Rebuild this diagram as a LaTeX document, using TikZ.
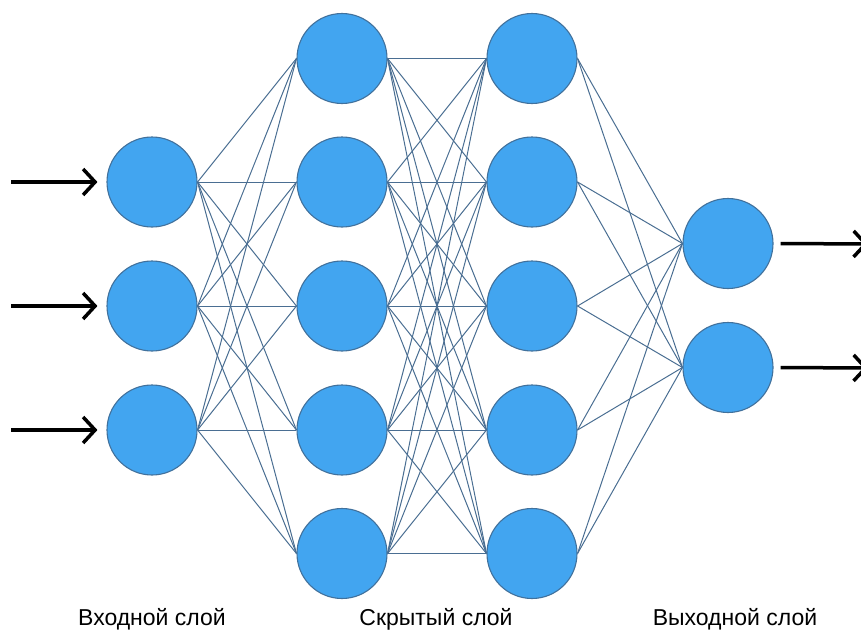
\documentclass[tikz,border=0pt]{standalone}
\usepackage{fontspec}
\setmainfont{Liberation Sans}
\usetikzlibrary{arrows.meta,backgrounds}
\definecolor{nodefill}{HTML}{42A5F0}
\definecolor{nodeedge}{HTML}{41719C}
\definecolor{linkcol}{HTML}{4A6E92}
\tikzset{
  neuron/.style={circle, minimum size=90pt, inner sep=0pt, fill=nodefill, draw=nodeedge, line width=1.1pt},
  link/.style={draw=linkcol, line width=1pt},
  bigarrow/.style={draw=black, line width=3.5pt, -{Straight Barb[length=12pt,width=26pt,line width=3.5pt]}},
  layerlabel/.style={font=\fontsize{23}{26}\selectfont, anchor=base, inner sep=0pt}
}
\begin{document}
\begin{tikzpicture}[x=1pt,y=-1pt]
\useasboundingbox (0,0) rectangle (861,629);
% input layer
\node[neuron] (i1) at (152,182) {};
\node[neuron] (i2) at (152,306) {};
\node[neuron] (i3) at (152,430) {};
% hidden layer 1
\node[neuron] (a1) at (342,58.5) {};
\node[neuron] (a2) at (342,182) {};
\node[neuron] (a3) at (342,306) {};
\node[neuron] (a4) at (342,430) {};
\node[neuron] (a5) at (342,553.5) {};
% hidden layer 2
\node[neuron] (b1) at (532,58.5) {};
\node[neuron] (b2) at (532,182) {};
\node[neuron] (b3) at (532,306) {};
\node[neuron] (b4) at (532,430) {};
\node[neuron] (b5) at (532,553.5) {};
% output layer
\node[neuron] (o1) at (728,243.5) {};
\node[neuron] (o2) at (728,367.5) {};
\begin{scope}[on background layer]
  \foreach \i in {1,2,3} \foreach \j in {1,...,5} \draw[link] (i\i.east) -- (a\j.west);
  \foreach \i in {1,...,5} \foreach \j in {1,...,5} \draw[link] (a\i.east) -- (b\j.west);
  \foreach \i in {1,...,5} \foreach \j in {1,2} \draw[link] (b\i.east) -- (o\j.west);
\end{scope}
% arrows
\coordinate (s1) at (11,182);
\coordinate (s2) at (11,306);
\coordinate (s3) at (11,430);
\coordinate (e1) at (868,244);
\coordinate (e2) at (868,368);
\foreach \k in {1,2,3} \draw[bigarrow] (s\k) -- ([xshift=-9pt]i\k.west);
\foreach \k in {1,2} \draw[bigarrow] ([xshift=7pt]o\k.east) -- (e\k);
% labels
\node[layerlabel] (l1) at (152,625) {Входной слой};
\node[layerlabel] (l2) at (436,625) {Скрытый слой};
\node[layerlabel] (l3) at (735,625) {Выходной слой};
\end{tikzpicture}
\end{document}
